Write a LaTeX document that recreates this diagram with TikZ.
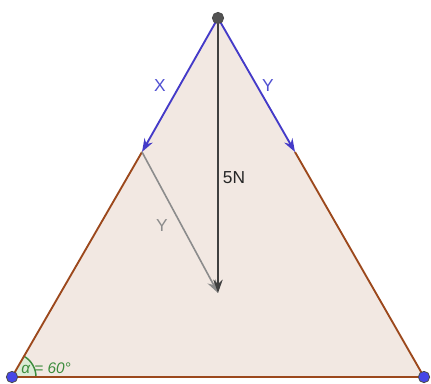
\documentclass[tikz,border=0pt]{standalone}
\usepackage{fontspec}
\setmainfont{Liberation Sans}
\usetikzlibrary{arrows.meta,calc}
\definecolor{trifill}{RGB}{242,232,226}
\definecolor{edge}{RGB}{156,72,28}
\definecolor{vblue}{RGB}{68,58,200}
\definecolor{lblue}{RGB}{80,80,210}
\definecolor{vdark}{RGB}{64,64,64}
\definecolor{vgray}{RGB}{140,140,140}
\definecolor{ang}{RGB}{60,140,60}
\definecolor{angfill}{RGB}{220,235,215}
\definecolor{ptblue}{RGB}{70,70,230}
\tikzset{
  edgeline/.style={draw=edge, line width=1.4pt},
  force/.style={line width=1.4pt, -{Stealth[length=10pt,width=7pt]}},
  lbl/.style={font=\fontsize{13}{15}\selectfont, inner sep=0pt},
  pt/.style={circle, draw=black!70, line width=0.6pt, inner sep=0pt, minimum size=8.5pt},
}
\begin{document}
\begin{tikzpicture}[x=0.75pt,y=-0.75pt]
\useasboundingbox (0,0) rectangle (431,383);
\fill[white] (0,0) rectangle (431,383);
\coordinate (T) at (218,18);
\coordinate (L) at (12,377);
\coordinate (R) at (424,377);
\coordinate (P) at (142,152);
\coordinate (Q) at (295,152);
\coordinate (F) at (218,293);
\fill[trifill] (T) -- (L) -- (R) -- cycle;
% angle
\fill[angfill] (L) -- ++(24,0) arc[start angle=0,end angle=60,radius=24*0.75pt] -- cycle;
\draw[ang, line width=1.1pt] ($(L)+(24,0)$) arc[start angle=0,end angle=60,radius=24*0.75pt];
\draw[edgeline] (P) -- (L) -- (R) -- (Q);
\draw[vblue, force] (T) -- (P);
\draw[vblue, force] (T) -- (Q);
\draw[vgray, force, line width=1.2pt] (P) -- (F);
\draw[vdark, force] (T) -- (F);
\node[lbl, text=lblue] (lx) at (160,86) {X};
\node[lbl, text=lblue] (ly) at (268,86) {Y};
\node[lbl, text=black!85] (l5) at (234,178) {5N};
\node[lbl, text=vgray] (lg) at (162,226) {Y};
\node[lbl, text=ang, font=\itshape\fontsize{11.5}{13}\selectfont] (la) at (46,368) {α = 60°};
\node[pt, fill=vdark!90] (nt) at (T) {};
\node[pt, fill=ptblue] (nl) at (L) {};
\node[pt, fill=ptblue] (nr) at (R) {};
\end{tikzpicture}
\end{document}
